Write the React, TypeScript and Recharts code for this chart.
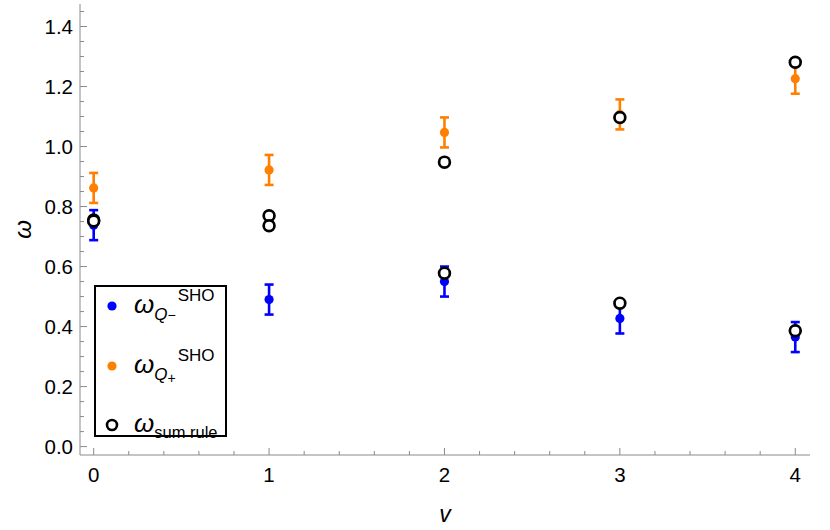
import React from 'react';
import { ScatterChart, Scatter, XAxis, YAxis, ErrorBar, Legend } from 'recharts';

// values
const vLevels = [0, 1, 2, 3, 4];
const omegaQMinus = [0.738, 0.49, 0.55, 0.427, 0.365];
const omegaQMinusErr = [0.05, 0.05, 0.05, 0.05, 0.05];
const omegaQPlus = [0.862, 0.922, 1.047, 1.107, 1.226];
const omegaQPlusErr = [0.05, 0.05, 0.05, 0.05, 0.05];
const sumRuleV = [0, 0, 1, 1, 2, 2, 3, 3, 4, 4];
const sumRuleOmega = [0.755, 0.752, 0.769, 0.736, 0.948, 0.578, 1.097, 0.478, 1.281, 0.386];

const xMajorTicks = [0, 1, 2, 3, 4];
const xMinorTicks = [0.2, 0.4, 0.6, 0.8, 1.2, 1.4, 1.6, 1.8, 2.2, 2.4, 2.6, 2.8, 3.2, 3.4, 3.6, 3.8];
const yMajorTicks = [0, 0.2, 0.4, 0.6, 0.8, 1.0, 1.2, 1.4];
const yMinorTicks = [
  0.05, 0.1, 0.15, 0.25, 0.3, 0.35, 0.45, 0.5, 0.55, 0.65, 0.7, 0.75, 0.85, 0.9, 0.95,
  1.05, 1.1, 1.15, 1.25, 1.3, 1.35, 1.45,
];

const xDomain: [number, number] = [-0.078, 4.084];
const yDomain: [number, number] = [-0.028, 1.475];

const qMinusData = vLevels.map((v, i) => ({ v, w: omegaQMinus[i], err: omegaQMinusErr[i] }));
const qPlusData = vLevels.map((v, i) => ({ v, w: omegaQPlus[i], err: omegaQPlusErr[i] }));
const sumRuleData = sumRuleV.map((v, i) => ({ v, w: sumRuleOmega[i] }));

const xTicks = [...xMajorTicks, ...xMinorTicks].sort((a, b) => a - b);
const yTicks = [...yMajorTicks, ...yMinorTicks].sort((a, b) => a - b);

const BLUE = '#0000ff';
const ORANGE = '#ff8000';
const FRAME = '#8a8a8a';
const FONT = '"Liberation Sans", Arial, sans-serif';

const isXMajor = (v: number) => xMajorTicks.some((t) => Math.abs(t - v) < 1e-6);
const isYMajor = (v: number) => yMajorTicks.some((t) => Math.abs(t - v) < 1e-6);

const BottomTick = (props: any) => {
  const { x, y, payload } = props;
  const major = isXMajor(payload.value);
  return (
    <g>
      <line x1={x} x2={x} y1={y} y2={y - (major ? 7 : 4)} stroke={FRAME} />
      {major && (
        <text x={x} y={y + 27} textAnchor="middle" fontSize={20.5} fontFamily={FONT} fill="#000">
          {payload.value}
        </text>
      )}
    </g>
  );
};

const TopTick = (props: any) => {
  const { x, y, payload } = props;
  const major = isXMajor(payload.value);
  return <line x1={x} x2={x} y1={y} y2={y + (major ? 7 : 4)} stroke={FRAME} />;
};

const LeftTick = (props: any) => {
  const { x, y, payload } = props;
  const major = isYMajor(payload.value);
  return (
    <g>
      <line x1={x} x2={x + (major ? 7 : 4)} y1={y} y2={y} stroke={FRAME} />
      {major && (
        <text x={x - 7} y={y + 7.5} textAnchor="end" fontSize={20.5} fontFamily={FONT} fill="#000">
          {Number(payload.value).toFixed(1)}
        </text>
      )}
    </g>
  );
};

const RightTick = (props: any) => {
  const { x, y, payload } = props;
  const major = isYMajor(payload.value);
  return <line x1={x} x2={x - (major ? 7 : 4)} y1={y} y2={y} stroke={FRAME} />;
};

const Dot = (color: string) => (props: any) => (
  <circle cx={props.cx} cy={props.cy} r={4.6} fill={color} />
);

const Ring = (props: any) => (
  <circle cx={props.cx} cy={props.cy} r={5.4} fill="#fff" stroke="#000" strokeWidth={2.7} />
);

const legendLabel = (name: string) => {
  if (name === 'sum') {
    return (
      <>
        <span style={{ fontStyle: 'italic', fontSize: 26 }}>ω</span>
        <span style={{ fontSize: 16.5, position: 'relative', top: 6 }}>sum rule</span>
      </>
    );
  }
  const sign = name === 'qMinus' ? '−' : '+';
  return (
    <>
      <span style={{ fontStyle: 'italic', fontSize: 26 }}>ω</span>
      <span style={{ fontSize: 17, position: 'relative', top: 7 }}>
        <span style={{ fontStyle: 'italic' }}>Q</span>
        <span style={{ fontSize: 14, position: 'relative', top: sign === '+' ? 3 : 0 }}>{sign}</span>
      </span>
      <span style={{ fontSize: 17, position: 'relative', top: -12, marginLeft: 2 }}>SHO</span>
    </>
  );
};

const renderLegend = (props: any) => {
  const { payload } = props;
  return (
    <div
      style={{
        position: 'relative',
        width: 133,
        height: 152,
        boxSizing: 'border-box',
        border: '2px solid #000',
        background: '#fff',
        fontFamily: FONT,
        color: '#000',
      }}
    >
      {(payload || []).map((entry: any, i: number) => (
        <div
          key={entry.value}
          style={{
            position: 'absolute',
            left: 0,
            top: 19 + i * 59.5 - 20,
            height: 40,
            display: 'flex',
            alignItems: 'center',
            whiteSpace: 'nowrap',
          }}
        >
          <svg width={20} height={20} style={{ marginLeft: 6 }}>
            {entry.value === 'sum' ? (
              <circle cx={10} cy={10} r={5} fill="#fff" stroke="#000" strokeWidth={2.6} />
            ) : (
              <circle cx={10} cy={10} r={4.6} fill={entry.value === 'qMinus' ? BLUE : ORANGE} />
            )}
          </svg>
          <span style={{ marginLeft: 12, lineHeight: '40px' }}>{legendLabel(entry.value)}</span>
        </div>
      ))}
    </div>
  );
};

export default function App() {
  return (
    <div style={{ position: 'absolute', left: 0, top: 0, fontFamily: FONT }}>
      <ScatterChart width={830} height={530} margin={{ top: 4, right: 20, bottom: 0, left: 10 }}>
        <XAxis
          xAxisId="b"
          type="number"
          dataKey="v"
          domain={xDomain}
          allowDataOverflow
          ticks={xTicks}
          interval={0}
          height={75}
          tickSize={0}
          tickMargin={0}
          tickLine={false}
          axisLine={{ stroke: FRAME }}
          tick={BottomTick}
          label={{ value: 'v', position: 'insideBottom', offset: 8, fontSize: 23, fontStyle: 'italic', fill: '#000', fontFamily: FONT }}
        />
        <XAxis
          xAxisId="t"
          orientation="top"
          type="number"
          domain={xDomain}
          allowDataOverflow
          ticks={xTicks}
          interval={0}
          height={0}
          tickSize={0}
          tickMargin={0}
          tickLine={false}
          axisLine={{ stroke: FRAME }}
          tick={TopTick}
        />
        <YAxis
          yAxisId="l"
          type="number"
          dataKey="w"
          domain={yDomain}
          allowDataOverflow
          ticks={yTicks}
          interval={0}
          width={70}
          tickSize={0}
          tickMargin={0}
          tickLine={false}
          axisLine={{ stroke: FRAME }}
          tick={LeftTick}
          label={{
            content: (p: any) => {
              const vb = p.viewBox;
              const cy = vb.y + vb.height / 2;
              return (
                <text
                  x={22}
                  y={cy}
                  transform={`rotate(-90 22 ${cy})`}
                  textAnchor="middle"
                  dominantBaseline="central"
                  fontSize={24}
                  fontStyle="italic"
                  fontFamily={FONT}
                  fill="#000"
                >
                  ω
                </text>
              );
            },
          }}
        />
        <YAxis
          yAxisId="r"
          orientation="right"
          type="number"
          domain={yDomain}
          allowDataOverflow
          ticks={yTicks}
          interval={0}
          width={0}
          tickSize={0}
          tickMargin={0}
          tickLine={false}
          axisLine={{ stroke: FRAME }}
          tick={RightTick}
        />
        <Legend
          layout="vertical"
          align="center"
          verticalAlign="middle"
          content={renderLegend}
          wrapperStyle={{ left: 94, top: 285, width: 133, height: 152 }}
        />
        <Scatter
          name="qMinus"
          data={qMinusData}
          xAxisId="b"
          yAxisId="l"
          fill={BLUE}
          shape={Dot(BLUE)}
          isAnimationActive={false}
        >
          <ErrorBar dataKey="err" direction="y" width={4.5} stroke={BLUE} strokeWidth={2.6} />
        </Scatter>
        <Scatter
          name="qPlus"
          data={qPlusData}
          xAxisId="b"
          yAxisId="l"
          fill={ORANGE}
          shape={Dot(ORANGE)}
          isAnimationActive={false}
        >
          <ErrorBar dataKey="err" direction="y" width={4.5} stroke={ORANGE} strokeWidth={2.6} />
        </Scatter>
        <Scatter
          name="sum"
          data={sumRuleData}
          xAxisId="b"
          yAxisId="l"
          fill="#000"
          shape={Ring}
          isAnimationActive={false}
        />
      </ScatterChart>
    </div>
  );
}
